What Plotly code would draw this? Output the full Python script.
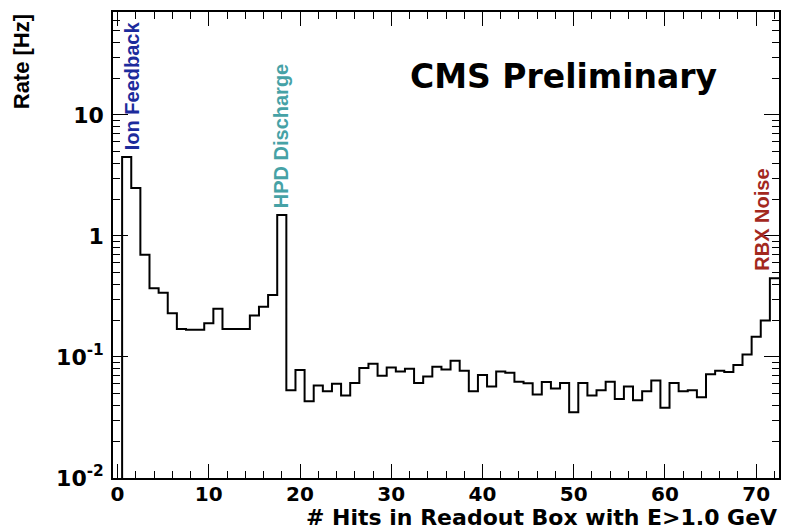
import plotly.graph_objects as go
import math

# ---- data ----
hits = list(range(73))
rate = [None, 4.5, 2.49, 0.70, 0.37, 0.34, 0.23, 0.17, 0.168, 0.168,
        0.19, 0.25, 0.17, 0.17, 0.17, 0.22, 0.26, 0.325, 1.49, 0.053,
        0.078, 0.043, 0.058, 0.052, 0.060, 0.048, 0.061, 0.081, 0.088, 0.070,
        0.082, 0.076, 0.080, 0.061, 0.069, 0.083, 0.079, 0.093, 0.077, 0.052,
        0.071, 0.057, 0.076, 0.074, 0.0625, 0.0606, 0.049, 0.062, 0.055, 0.061,
        0.035, 0.061, 0.048, 0.053, 0.0625, 0.045, 0.057, 0.044, 0.052, 0.064,
        0.038, 0.061, 0.052, 0.053, 0.0465, 0.072, 0.077, 0.075, 0.086, 0.105,
        0.147, 0.20, 0.447]

ytick_vals = [0.01, 0.1, 1, 10]
ytick_text = ["10<sup>-2</sup>", "10<sup>-1</sup>", "1", "10"]
xtick_vals = [0, 10, 20, 30, 40, 50, 60, 70]

labels = ["Ion Feedback", "HPD Discharge", "RBX Noise"]
label_x = [1.55, 18.0, 70.6]
label_y = [4.94, 1.64, 0.494]
label_colors = ["#1c2b9c", "#46a2a6", "#a3281e"]

# ---- build histogram outline (step) ----
floor = 1e-3
xs = [hits[1] - 0.5]
ys = [floor]
for h, r in zip(hits, rate):
    if r is None:
        continue
    xs.append(h - 0.5)
    ys.append(r)
xs.append(hits[-1] + 0.5)
ys.append(rate[-1])

fig = go.Figure()
fig.add_trace(go.Scatter(x=xs, y=ys, mode="lines", line_shape="hv",
                         line=dict(color="black", width=2), showlegend=False,
                         hoverinfo="skip"))

fig.update_xaxes(range=[-0.5, 72.5], showgrid=False, zeroline=False,
                 showline=True, linecolor="black", linewidth=1.5, mirror="allticks",
                 ticks="inside", ticklen=14, tickwidth=1, tickcolor="black",
                 tickvals=xtick_vals,
                 tickfont=dict(family="DejaVu Sans", size=20, color="black",
                               weight="bold"),
                 ticklabelstandoff=-3,
                 minor=dict(ticks="inside", ticklen=7, dtick=2, tick0=0,
                            tickcolor="black", showgrid=False))
fig.update_yaxes(type="log", range=[-2, 1.851], showgrid=False, zeroline=False,
                 showline=True, linecolor="black", linewidth=1.5, mirror="allticks",
                 ticks="inside", ticklen=15, tickwidth=1, tickcolor="black",
                 tickvals=ytick_vals, ticktext=ytick_text,
                 tickfont=dict(family="DejaVu Sans", size=22, color="black",
                               weight="bold"),
                 ticklabelstandoff=3,
                 minor=dict(ticks="inside", ticklen=7, dtick="D1",
                            tickcolor="black", showgrid=False))

ann = []
for t, x, y, c in zip(labels, label_x, label_y, label_colors):
    ann.append(dict(x=x, y=math.log10(y), xref="x", yref="y", text=t,
                    textangle=-90, showarrow=False, xanchor="center",
                    yanchor="bottom",
                    font=dict(family="Liberation Sans", size=20, color=c,
                              weight="bold")))
ann.append(dict(x=0.677, y=0.861, xref="paper", yref="paper",
                text="CMS Preliminary", showarrow=False,
                xanchor="center", yanchor="middle",
                font=dict(family="DejaVu Sans", size=33, color="black",
                          weight="bold")))
ann.append(dict(x=1.0, y=-0.1159, xref="paper", yref="paper",
                text="# Hits in Readout Box with E>1.0 GeV", showarrow=False,
                xanchor="right", yanchor="bottom",
                font=dict(family="DejaVu Sans", size=22, color="black",
                          weight="bold")))
ann.append(dict(x=-0.137, y=1.0, xref="paper", yref="paper",
                text="Rate [Hz]", showarrow=False, textangle=-90,
                xanchor="center", yanchor="top",
                font=dict(family="Liberation Sans", size=22, color="black",
                          weight="bold")))

fig.update_layout(width=786, height=532,
                  margin=dict(l=113, r=5, t=12, b=54),
                  paper_bgcolor="white", plot_bgcolor="white",
                  annotations=ann)

fig.write_html("out.html", config={"displayModeBar": False},
               post_script="document.body.style.margin='0';document.body.style.overflow='hidden';")
